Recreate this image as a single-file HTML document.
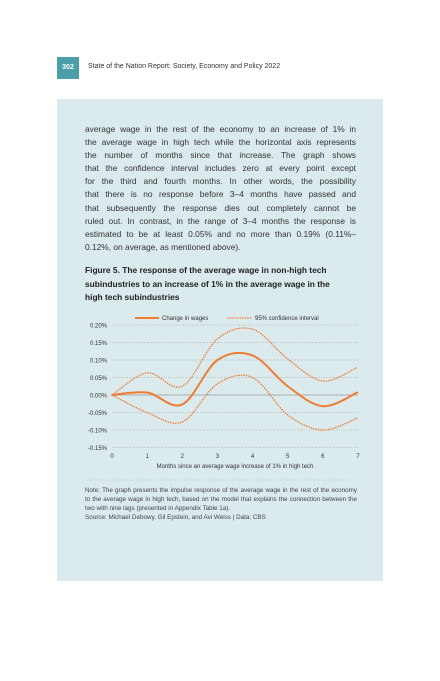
<!DOCTYPE html>
<html><head><meta charset="utf-8"><style>
body{margin:0;width:440px;height:681px;background:#fff;position:relative;font-family:"Liberation Sans",sans-serif;overflow:hidden}
#badge{position:absolute;left:57px;top:57px;width:22px;height:22px;background:#4a9fab;color:#fff;font-size:7px;font-weight:bold;text-align:center;line-height:22px}
#hdr{position:absolute;left:88px;top:63px;font-size:7px;color:#333}
#panel{position:absolute;left:57px;top:99px;width:326px;height:482px;background:#dbeaed}
#para{position:absolute;left:85px;top:123px;width:271px;font-size:8.4px;line-height:13.1px;color:#333}
#para div{text-align:justify;text-align-last:justify;white-space:nowrap;overflow:visible}
#para div.last{text-align-last:left}
#title{position:absolute;left:85px;top:264px;width:262px;font-size:8.4px;line-height:13.5px;font-weight:bold;color:#222}
#note{position:absolute;left:85px;top:486px;width:272px;font-size:6.3px;line-height:9px;color:#444;text-align:justify}
svg{position:absolute;left:0;top:0}
</style></head><body>
<div id="badge">302</div>
<div id="hdr">State of the Nation Report: Society, Economy and Policy 2022</div>
<div id="panel"></div>
<div id="para">
<div>average wage in the rest of the economy to an increase of 1% in</div>
<div>the average wage in high tech while the horizontal axis represents</div>
<div>the number of months since that increase. The graph shows</div>
<div>that the confidence interval includes zero at every point except</div>
<div>for the third and fourth months. In other words, the possibility</div>
<div>that there is no response before 3–4 months have passed and</div>
<div>that subsequently the response dies out completely cannot be</div>
<div>ruled out. In contrast, in the range of 3–4 months the response is</div>
<div>estimated to be at least 0.05% and no more than 0.19% (0.11%–</div>
<div class="last">0.12%, on average, as mentioned above).</div>
</div>
<div id="title">Figure 5. The response of the average wage in non-high tech subindustries to an increase of 1% in the average wage in the high tech subindustries</div>
<svg id="chart" width="440" height="681"></svg>
<div id="note">Note: The graph presents the impulse response of the average wage in the rest of the economy to the average wage in high tech, based on the model that explains the connection between the two with nine lags (presented in Appendix Table 1a).<br>Source: Michael Debowy, Gil Epstein, and Avi Weiss | Data: CBS</div>
<script>
const months=[0,1,2,3,4,5,6,7];
const change=[0,0.007,-0.027,0.1,0.113,0.025,-0.032,0.008];
const upper=[0,0.063,0.025,0.16,0.188,0.103,0.04,0.08];
const lower=[0,-0.05,-0.077,0.032,0.05,-0.057,-0.1,-0.065];
const yTicks=[0.2,0.15,0.1,0.05,0,-0.05,-0.1,-0.15];
const yLabels=["0.20%","0.15%","0.10%","0.05%","0.00%","-0.05%","-0.10%","-0.15%"];
const NS="http://www.w3.org/2000/svg";
const svg=document.getElementById('chart');
const x=m=>112+m*(358-112)/7;
const y=v=>395-v*(395-325)/0.2;
function mk(t,a){const e=document.createElementNS(NS,t);for(const k in a)e.setAttribute(k,a[k]);svg.appendChild(e);return e;}
yTicks.forEach((t,i)=>{
 const g=mk('line',{x1:112,x2:358,y1:y(t),y2:y(t),stroke:t===0?'#999':'#aaa','stroke-width':t===0?0.8:0.6,'stroke-dasharray':t===0?'':'2,1.5'});
 
 
 const l=mk('text',{x:107,y:y(t)+2.3,'font-size':6,'text-anchor':'end',fill:'#333'});l.textContent=yLabels[i];
 
 
});
months.forEach(m=>{const l=mk('text',{x:x(m),y:458,'font-size':6,'text-anchor':'middle',fill:'#333'});l.textContent=m;
 
 });
const xt=mk('text',{x:235,y:468,'font-size':6,'text-anchor':'middle',fill:'#333'});xt.textContent='Months since an average wage increase of 1% in high tech';


function path(vals){
 const p=vals.map((v,i)=>[x(months[i]),y(v)]);let d=`M${p[0][0]},${p[0][1]}`;
 for(let i=0;i<p.length-1;i++){const p0=p[i-1]||p[i],p1=p[i],p2=p[i+1],p3=p[i+2]||p2;const t=0.5/3;
  d+=` C${p1[0]+(p2[0]-p0[0])*t},${p1[1]+(p2[1]-p0[1])*t} ${p2[0]-(p3[0]-p1[0])*t},${p2[1]-(p3[1]-p1[1])*t} ${p2[0]},${p2[1]}`;}
 return d;}
[[upper,'upper-ci-line'],[lower,'lower-ci-line']].forEach(([s,n])=>{const e=mk('path',{d:path(s),fill:'none',stroke:'#ed7d31','stroke-width':1.5,'stroke-dasharray':'0.1,2.4','stroke-linecap':'round'});
 
 });
const c=mk('path',{d:path(change),fill:'none',stroke:'#ed7d31','stroke-width':2});


mk('line',{x1:135,x2:159,y1:318,y2:318,stroke:'#ed7d31','stroke-width':2});
const l1=mk('text',{x:162,y:320,'font-size':6,fill:'#333'});l1.textContent='Change in wages';


mk('line',{x1:228,x2:252,y1:318,y2:318,stroke:'#ed7d31','stroke-width':1.5,'stroke-dasharray':'0.1,2.4','stroke-linecap':'round'});
const l2=mk('text',{x:255,y:320,'font-size':6,fill:'#333'});l2.textContent='95% confidence interval';


mk('line',{x1:85,x2:355,y1:480,y2:480,stroke:'#bbb','stroke-width':0.6,'stroke-dasharray':'1.5,1.5'});
</script>
</body></html>
